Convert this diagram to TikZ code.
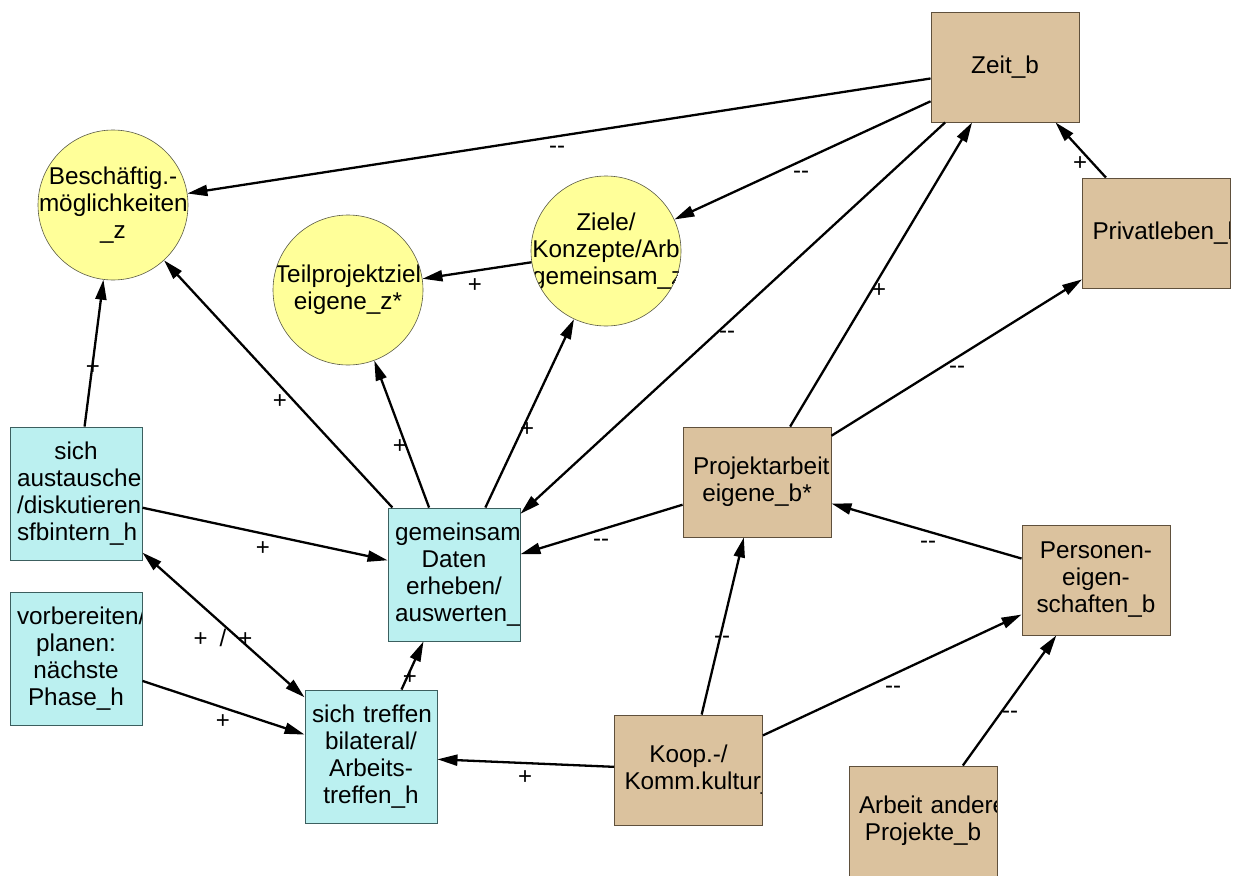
\documentclass[tikz,border=0pt]{standalone}
\usepackage{fontspec}
\setmainfont{Liberation Sans}
\usetikzlibrary{arrows.meta}
\definecolor{tanfill}{RGB}{219,194,158}
\definecolor{tanline}{RGB}{95,80,60}
\definecolor{cyanfill}{RGB}{187,240,240}
\definecolor{cyanline}{RGB}{60,95,95}
\definecolor{yelfill}{RGB}{255,255,153}
\definecolor{yelline}{RGB}{90,90,70}
\newcommand{\nodefnt}{\fontsize{24.3}{27}\selectfont\hyphenpenalty=10000\exhyphenpenalty=10000}
\newcommand{\lblfnt}{\fontsize{24}{26}\selectfont}
\tikzset{
  ntext/.style={inner sep=0pt, align=center, font=\nodefnt, text width=#1},
  brownbox/.style={rectangle, draw=tanline, line width=0.9pt, fill=tanfill,
    minimum width=148pt, minimum height=110pt, inner sep=0pt,
    path picture={\node[ntext=128pt] at (path picture bounding box.center) {#1};}},
  cyanbox/.style={rectangle, draw=cyanline, line width=0.9pt, fill=cyanfill,
    minimum width=132pt, minimum height=133pt, inner sep=0pt,
    path picture={\node[ntext=118pt] at (path picture bounding box.center) {#1};}},
  yelcirc/.style={circle, draw=yelline, line width=0.6pt, fill=yelfill,
    minimum size=150pt, inner sep=0pt,
    path picture={\node[ntext=148pt] at (path picture bounding box.center) {#1};}},
  arr/.style={line width=2.3pt, -{Triangle[length=20pt,width=11pt]}},
  dblarr/.style={line width=2.3pt, {Triangle[length=20pt,width=11pt]}-{Triangle[length=20pt,width=11pt]}},
  lbl/.style={inner sep=0pt, font=\lblfnt, text=black}
}
\begin{document}
\begin{tikzpicture}[x=1pt,y=-1pt]
\useasboundingbox (0,0) rectangle (1233,875);
% brown boxes
\node[brownbox={Zeit\_b}] (zeit) at (1005,67) {};
\node[brownbox={Privatleben\_b}] (priv) at (1156.5,233) {};
\node[brownbox={Projektarbeit\\eigene\_b*}] (proj) at (757,482) {};
\node[brownbox={Personen-\\eigen-\\schaften\_b}] (pers) at (1096,580) {};
\node[brownbox={Koop.-/\\Komm.kultur\_}] (koop) at (688.5,770) {};
\node[brownbox={\mbox{Arbeit andere}\\Projekte\_b}] (arb) at (923,821) {};
% yellow circles
\node[yelcirc={Beschäftig.-\\möglichkeiten\\\_z}] (besch) at (113,205) {};
\node[yelcirc={Teilprojektziel\\eigene\_z*}] (teil) at (348,290) {};
\node[yelcirc={Ziele/\\Konzepte/Arb\\gemeinsam\_z}] (ziele) at (606,251) {};
% cyan boxes
\node[cyanbox={sich\\austauschen\\/diskutieren\\sfbintern\_h}] (aus) at (76,493.5) {};
\node[cyanbox={vorbereiten/\\planen:\\nächste\\Phase\_h}] (vor) at (76,659) {};
\node[cyanbox={gemeinsam\\Daten\\erheben/\\auswerten\_}] (gem) at (454,574.5) {};
\node[cyanbox={\mbox{sich treffen}\\bilateral/\\Arbeits-\\treffen\_h}] (tref) at (371,756.5) {};
% connectors
\draw[arr] (zeit) -- (besch) node[lbl] at (557,150) {-{}-};
\draw[arr] (zeit) -- (ziele) node[lbl] at (801,175) {-{}-};
\draw[arr] (zeit) -- (gem) node[lbl] at (727,335) {-{}-};
\draw[arr] (proj) -- (zeit) node[lbl] at (879,291) {+};
\draw[arr] (priv) -- (zeit) node[lbl] at (1080,164) {+};
\draw[arr] (proj) -- (priv) node[lbl] at (957,370) {-{}-};
\draw[arr] (ziele) -- (teil) node[lbl] at (475,286) {+};
\draw[arr] (aus) -- (besch) node[lbl] at (93,368) {+};
\draw[arr] (gem) -- (besch) node[lbl] at (280,402) {+};
\draw[arr] (gem) -- (teil) node[lbl] at (400,447) {+};
\draw[arr] (gem) -- (ziele) node[lbl] at (527,430) {+};
\draw[arr] (aus) -- (gem) node[lbl] at (263,549) {+};
\draw[dblarr] (aus) -- (tref) node[lbl] at (223,638) {+\hspace{12pt}/\hspace{12pt}+};
\draw[arr] (vor) -- (tref) node[lbl] at (223,722) {+};
\draw[arr] (tref) -- (gem) node[lbl] at (410,678) {+};
\draw[arr] (proj) -- (gem) node[lbl] at (601,543) {-{}-};
\draw[arr] (pers) -- (proj) node[lbl] at (928,545) {-{}-};
\draw[arr] (koop) -- (proj) node[lbl] at (722,640) {-{}-};
\draw[arr] (koop) -- (pers) node[lbl] at (893,690) {-{}-};
\draw[arr] (koop) -- (tref) node[lbl] at (525,778) {+};
\draw[arr] (arb) -- (pers) node[lbl] at (1010,715) {-{}-};
\end{tikzpicture}
\end{document}
